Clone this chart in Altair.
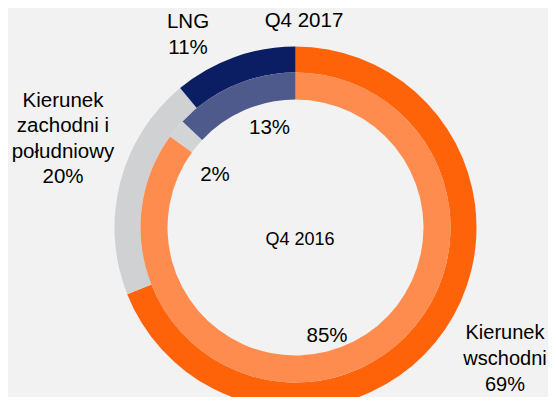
import altair as alt
import pandas as pd

categories = ["Kierunek wschodni", "Kierunek zachodni i południowy", "LNG"]
q4_2017 = [69, 20, 11]
q4_2016 = [85, 2, 13]

outer_colors = ["#FF6309", "#D0D1D3", "#0B1D63"]
inner_colors = ["#FF8C4F", "#D3D4D6", "#4E5A8C"]

keys = [f"2017_{i}" for i in range(3)] + [f"2016_{i}" for i in range(3)]

outer_df = pd.DataFrame({"key": keys[:3], "cat": categories, "value": q4_2017, "order": [0, 1, 2]})
inner_df = pd.DataFrame({"key": keys[3:], "cat": categories, "value": q4_2016, "order": [0, 1, 2]})

color_scale = alt.Scale(domain=keys, range=outer_colors + inner_colors)

CX, CY = 287.5, 219.5
FONT = "Liberation Sans"


def ring(df, r_in, r_out):
    return alt.Chart(df).mark_arc(radius=r_out, radius2=r_in, stroke=None).encode(
        theta=alt.Theta("value:Q", stack=True, scale=alt.Scale(range=[0, 6.283185307])),
        order=alt.Order("order:Q"),
        color=alt.Color("key:N", scale=color_scale, legend=None),
        x=alt.value(CX),
        y=alt.value(CY),
    )


def label(text, x, y, size=20.5, lh=25.5):
    return alt.Chart(pd.DataFrame({"t": [text]})).mark_text(
        font=FONT, fontSize=size, color="#000000", align="center", baseline="middle",
        lineBreak="\n", lineHeight=lh,
    ).encode(text="t:N", x=alt.value(x), y=alt.value(y))


east, west, lng = categories
west_lines = "Kierunek\nzachodni i\npołudniowy"

layers = [
    ring(outer_df, 155, 181),
    ring(inner_df, 128, 155),
    label("Q4 2017", 296, 12.5),
    label(f"{lng}\n{q4_2017[2]}%", 180, 14, lh=26),
    label(f"{west_lines}\n{q4_2017[1]}%", 55, 93, lh=25.3),
    label(f"Kierunek\nwschodni\n{q4_2017[0]}%", 497, 325, size=20, lh=26),
    label(f"{q4_2016[2]}%", 261.5, 120),
    label(f"{q4_2016[1]}%", 207, 166.5),
    label("Q4 2016", 292, 232, size=18),
    label(f"{q4_2016[0]}%", 319, 328),
]

chart = alt.layer(*layers).properties(
    width=540, height=389, padding=0, autosize=alt.AutoSizeParams(type="none"),
    background="#F2F2F2",
).configure_view(stroke=None)

chart.save("out.html", embed_options={"renderer": "svg", "actions": False})
